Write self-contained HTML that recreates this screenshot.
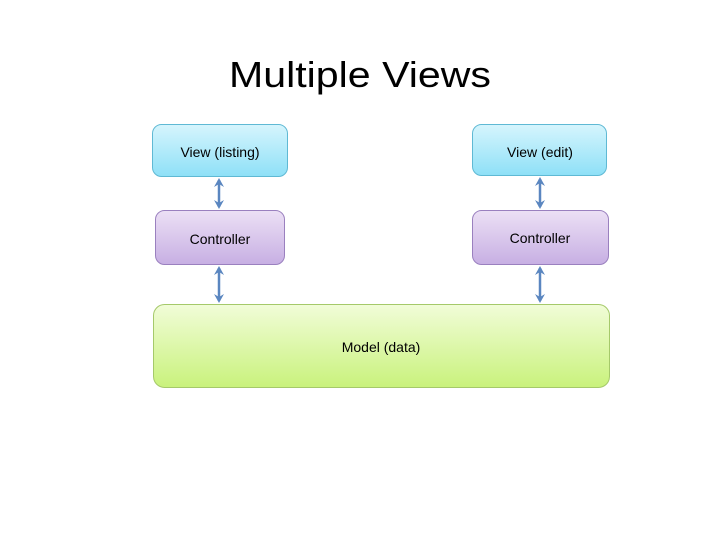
<!DOCTYPE html>
<html><head><style>body{margin:0;background:#fff}</style></head><body>
<svg width="720" height="540" xmlns="http://www.w3.org/2000/svg" font-family="Liberation Sans, sans-serif">
<defs>
<linearGradient id="b" x1="0" y1="0" x2="0" y2="1"><stop offset="0" stop-color="#d6f5fd"/><stop offset="1" stop-color="#8ee0f7"/></linearGradient>
<linearGradient id="p" x1="0" y1="0" x2="0" y2="1"><stop offset="0" stop-color="#ece0f5"/><stop offset="1" stop-color="#c7afe3"/></linearGradient>
<linearGradient id="g" x1="0" y1="0" x2="0" y2="1"><stop offset="0" stop-color="#f1fcd8"/><stop offset="1" stop-color="#c9f27c"/></linearGradient>
<marker id="a" markerWidth="10" markerHeight="10" refX="7" refY="5" orient="auto-start-reverse" markerUnits="userSpaceOnUse"><path d="M0,0 L9,5 L0,10 L3,5 Z" fill="#5a86c0"/></marker>
</defs>
<text x="360" y="87" font-size="36" text-anchor="middle" fill="#000" textLength="262" lengthAdjust="spacingAndGlyphs">Multiple Views</text>
<rect x="152.5" y="124.5" width="135" height="52" rx="9" fill="url(#b)" stroke="#5fb9d4"/>
<text x="220" y="157" font-size="14" text-anchor="middle">View (listing)</text>
<rect x="472.5" y="124.5" width="134" height="51" rx="9" fill="url(#b)" stroke="#5fb9d4"/>
<text x="540" y="157" font-size="14" text-anchor="middle">View (edit)</text>
<rect x="155.5" y="210.5" width="129" height="54" rx="9" fill="url(#p)" stroke="#9a80bf"/>
<text x="220" y="244" font-size="14" text-anchor="middle">Controller</text>
<rect x="472.5" y="210.5" width="136" height="54" rx="9" fill="url(#p)" stroke="#9a80bf"/>
<text x="540" y="243" font-size="14" text-anchor="middle">Controller</text>
<rect x="153.5" y="304.5" width="456" height="83" rx="11" fill="url(#g)" stroke="#a5c96a"/>
<text x="381" y="352" font-size="14" text-anchor="middle">Model (data)</text>
<g stroke="#5a86c0" stroke-width="2.5" marker-start="url(#a)" marker-end="url(#a)">
<line x1="219" y1="180" x2="219" y2="207"/>
<line x1="219" y1="268" x2="219" y2="301"/>
<line x1="540" y1="179" x2="540" y2="207"/>
<line x1="540" y1="268" x2="540" y2="301"/>
</g>
</svg>
</body></html>
